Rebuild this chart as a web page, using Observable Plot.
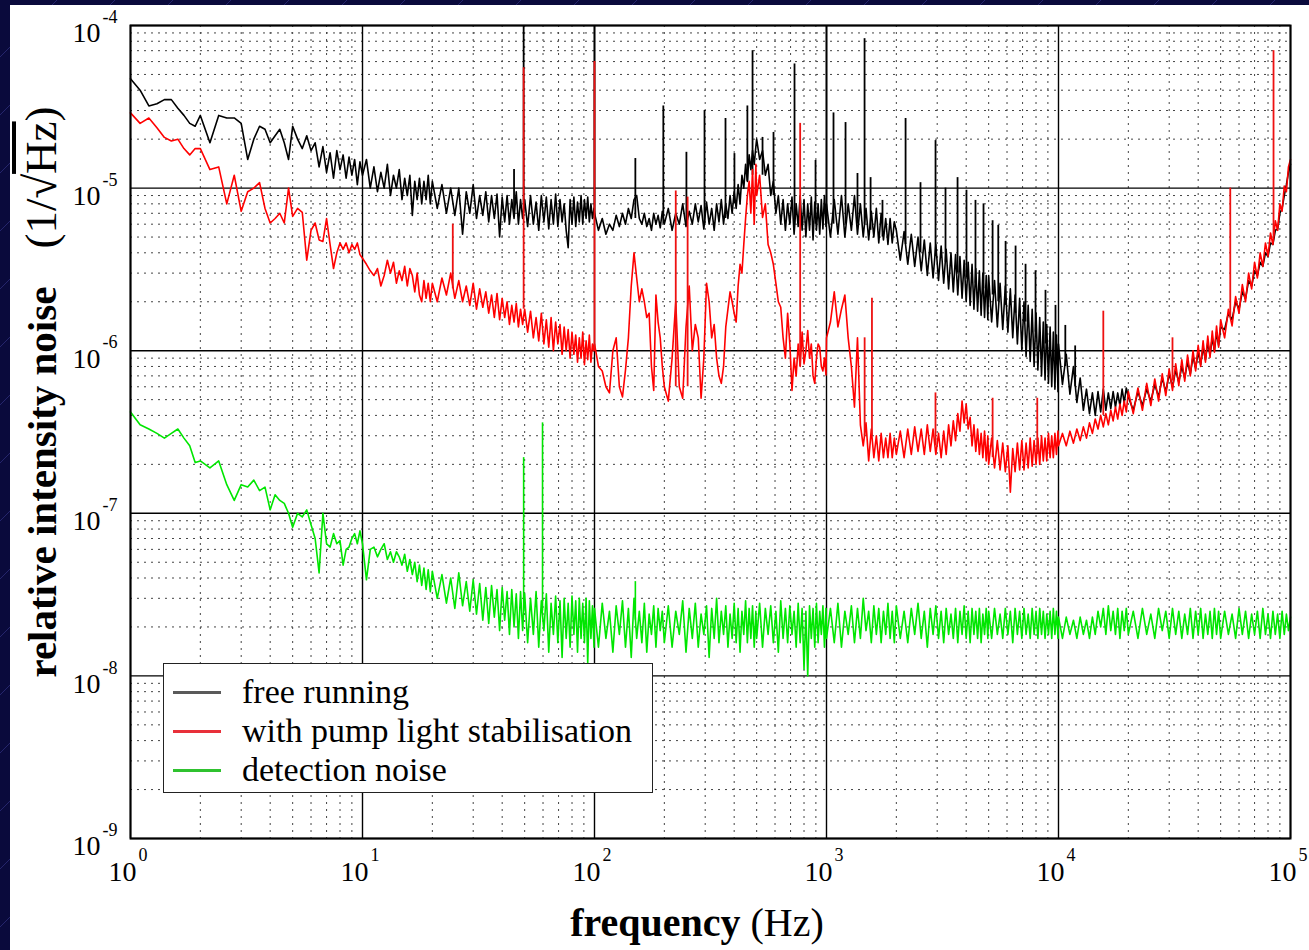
<!DOCTYPE html>
<html>
<head>
<meta charset="utf-8">
<script src="https://cdn.jsdelivr.net/npm/d3@7"></script>
<script src="https://cdn.jsdelivr.net/npm/@observablehq/plot@0.6"></script>
<style>
html,body{margin:0;padding:0;width:1309px;height:950px;overflow:hidden;}
body{position:relative;background:#0a0a3c repeating-linear-gradient(135deg,#0a0a3c 0px,#0a0a3c 40px,#25256c 40px,#25256c 41px);font-family:"Liberation Serif","Times New Roman",serif;color:#000;}
#panel{position:absolute;left:10px;top:5px;width:1299px;height:945px;background:#fff;}
#chart{position:absolute;left:0;top:0;width:1309px;height:950px;}
#xtitle{position:absolute;left:697px;top:903px;transform:translateX(-50%);font-size:40px;line-height:40px;white-space:nowrap;}
#ytitle{position:absolute;left:42px;top:392px;transform:translate(-50%,-50%) rotate(-90deg);font-size:41px;line-height:41px;white-space:nowrap;}
#legend{position:absolute;left:163px;top:663px;width:490px;height:130px;box-sizing:border-box;border:1.5px solid #222;background:#fff;}
.lrow{position:absolute;left:78px;font-size:34px;line-height:39px;white-space:nowrap;}
.lsample{position:absolute;left:9px;width:48px;height:3px;}
</style>
</head>
<body>
<div id="panel"></div>
<div id="chart"></div>
<div id="xtitle"><b>frequency</b> (Hz)</div>
<div id="ytitle"><b>relative intensity noise</b><span style="margin-left:38px;font-size:45px">(1/√<span style="text-decoration:overline">Hz</span>)</span></div>
<div id="legend"></div>
<script>
// ---- axis ticks ----
const xDecades = [1, 10, 100, 1000, 10000, 100000];
const xExponents = ["0", "1", "2", "3", "4", "5"];
const yDecades = [1e-4, 1e-5, 1e-6, 1e-7, 1e-8, 1e-9];
const yExponents = ["-4", "-5", "-6", "-7", "-8", "-9"];
const minorMultipliers = [2, 3, 4, 5, 6, 7, 8, 9];

// ---- legend ----
const seriesNames = ["free running", "with pump light stabilisation", "detection noise"];
const legendColors = ["#5a5a5a", "#e8303a", "#2fc22f"];

// ---- frequency grid (Hz) shared by the three spectra ----
const frequency = [
1,1.1,1.2,1.3,1.4,1.5,1.6,1.7,1.8,1.9,
2,2.2,2.4,2.6,2.8,3,3.2,3.4,3.6,3.8,4,4.2,4.4,4.6,4.8,
5,5.25,5.5,5.75,6,6.25,6.5,6.75,7,7.25,7.5,7.75,8,8.25,8.5,8.75,9,9.25,9.5,9.75,
10,10.4,10.8,11.2,11.6,12,12.4,12.8,13.2,13.6,14,14.4,14.8,15.2,15.6,16,16.4,16.8,17.2,17.6,18,18.4,18.8,19.2,19.6,
20,21,22,23,24,25,26,27,28,29,30,31,32,33,34,35,36,37,38,39,40,41,42,43,44,45,46,47,48,49,
50,51.5,53,54.5,56,57.5,59,60.5,62,63.5,65,66.5,68,69.5,71,72.5,74,75.5,77,78.5,80,81.5,83,84.5,86,87.5,89,90.5,92,93.5,95,96.5,98,99.5,
100,104,108,112,116,120,124,128,132,136,140,144,148,152,156,160,164,168,172,176,180,184,188,192,196,
200,208,216,224,232,240,248,256,264,272,280,288,296,304,312,320,328,336,344,352,360,368,376,384,392,400,408,416,424,432,440,448,456,464,472,480,488,496,
500,515,530,545,560,575,590,605,620,635,650,665,680,695,710,725,740,755,770,785,800,815,830,845,860,875,890,905,920,935,950,965,980,995,
1000,1040,1080,1120,1160,1200,1240,1280,1320,1360,1400,1440,1480,1520,1560,1600,1640,1680,1720,1760,1800,1840,1880,1920,1960,
2000,2080,2160,2240,2320,2400,2480,2560,2640,2720,2800,2880,2960,3040,3120,3200,3280,3360,3440,3520,3600,3680,3760,3840,3920,4000,4080,4160,4240,4320,4400,4480,4560,4640,4720,4800,4880,4960,
5000,5150,5300,5450,5600,5750,5900,6050,6200,6350,6500,6650,6800,6950,7100,7250,7400,7550,7700,7850,8000,8150,8300,8450,8600,8750,8900,9050,9200,9350,9500,9650,9800,9950,
10000,10400,10800,11200,11600,12000,12400,12800,13200,13600,14000,14400,14800,15200,15600,16000,16400,16800,17200,17600,18000,18400,18800,19200,19600,
20000,21000,22000,23000,24000,25000,26000,27000,28000,29000,30000,31000,32000,33000,34000,35000,36000,37000,38000,39000,40000,41000,42000,43000,44000,45000,46000,47000,48000,49000,
50000,52000,54000,56000,58000,60000,62000,64000,66000,68000,70000,72000,74000,76000,78000,80000,82000,84000,86000,88000,90000,92000,94000,96000,98000,100000
];

// ---- free running (1/sqrt(Hz)) ----
const freeRunning = [
4.7e-5,4.0e-5,3.2e-5,3.3e-5,3.5e-5,3.5e-5,3.1e-5,2.8e-5,2.5e-5,2.4e-5,
2.8e-5,1.9e-5,2.8e-5,2.7e-5,2.7e-5,2.5e-5,1.5e-5,2.0e-5,2.4e-5,2.3e-5,1.9e-5,2.1e-5,2.3e-5,1.9e-5,1.5e-5,
2.4e-5,2.0e-5,1.75e-5,2.1e-5,1.7e-5,1.9e-5,1.35e-5,1.8e-5,1.25e-5,1.65e-5,1.15e-5,1.7e-5,1.3e-5,1.6e-5,1.15e-5,1.55e-5,1.2e-5,1.5e-5,1.05e-5,1.45e-5,
1.2e-5,1.5e-5,1.0e-5,1.35e-5,9.5e-6,1.25e-5,1.0e-5,1.4e-5,9.0e-6,1.2e-5,1.0e-5,1.3e-5,8.5e-6,1.15e-5,9.0e-6,1.2e-5,6.8e-6,1.1e-5,8.5e-6,1.15e-5,8.0e-6,1.1e-5,8.5e-6,1.2e-5,8.0e-6,
1.1e-5,7.5e-6,1.05e-5,7.0e-6,1.0e-5,6.8e-6,1.0e-5,5.2e-6,9.5e-6,7.0e-6,1.05e-5,6.5e-6,9.0e-6,6.8e-6,9.5e-6,6.2e-6,9.0e-6,6.5e-6,9.2e-6,5.0e-6,8.8e-6,6.2e-6,9.0e-6,6.0e-6,8.5e-6,6.5e-6,9.5e-6,6.0e-6,8.5e-6,6.5e-6,
8.5e-6,5.8e-6,9.0e-6,6.0e-6,8.2e-6,5.5e-6,9.0e-6,6.2e-6,8.8e-6,5.6e-6,8.5e-6,6.0e-6,9.2e-6,5.8e-6,8.5e-6,6.2e-6,8.0e-6,5.5e-6,4.3e-6,8.5e-6,6.0e-6,8.8e-6,5.8e-6,8.2e-6,6.2e-6,9.0e-6,6.0e-6,8.5e-6,6.5e-6,8.8e-6,6.2e-6,8.0e-6,6.5e-6,7.5e-6,
7.0e-6,5.5e-6,6.5e-6,5.2e-6,6.0e-6,5.5e-6,6.8e-6,5.8e-6,7.0e-6,6.0e-6,7.5e-6,6.5e-6,8.5e-6,9.0e-6,6.5e-6,6.0e-6,7.0e-6,5.8e-6,6.5e-6,5.5e-6,7.0e-6,6.0e-6,6.8e-6,5.7e-6,7.2e-6,
6.0e-6,7.5e-6,5.5e-6,7.0e-6,6.0e-6,8.0e-6,5.8e-6,7.2e-6,6.0e-6,8.0e-6,6.2e-6,7.8e-6,5.6e-6,8.2e-6,6.0e-6,7.5e-6,5.5e-6,8.0e-6,6.2e-6,8.5e-6,6.0e-6,8.0e-6,6.5e-6,9.0e-6,7.0e-6,9.5e-6,7.5e-6,1.05e-5,8.0e-6,1.2e-5,1.0e-5,1.4e-5,1.1e-5,1.6e-5,1.3e-5,1.7e-5,1.4e-5,1.8e-5,
2.0e-5,1.5e-5,1.7e-5,1.2e-5,1.4e-5,9.0e-6,1.1e-5,7.0e-6,9.0e-6,6.0e-6,8.5e-6,5.5e-6,8.0e-6,6.0e-6,8.8e-6,5.2e-6,8.0e-6,5.8e-6,9.0e-6,5.5e-6,8.5e-6,5.0e-6,8.0e-6,5.5e-6,8.8e-6,4.8e-6,8.2e-6,5.5e-6,8.0e-6,5.2e-6,8.5e-6,5.6e-6,9.0e-6,5.8e-6,
8.0e-6,5.0e-6,8.5e-6,5.2e-6,9.0e-6,5.0e-6,8.0e-6,5.5e-6,9.0e-6,5.2e-6,8.0e-6,5.0e-6,7.5e-6,4.8e-6,7.2e-6,5.0e-6,7.5e-6,4.6e-6,7.0e-6,4.8e-6,6.5e-6,4.5e-6,6.5e-6,4.6e-6,6.2e-6,
5.5e-6,3.6e-6,5.4e-6,3.4e-6,5.2e-6,3.3e-6,5.0e-6,3.1e-6,4.8e-6,2.9e-6,4.6e-6,2.8e-6,4.5e-6,2.7e-6,4.4e-6,2.6e-6,4.2e-6,2.4e-6,4.0e-6,2.3e-6,3.9e-6,2.2e-6,3.8e-6,2.1e-6,3.6e-6,2.0e-6,3.5e-6,1.9e-6,3.4e-6,1.8e-6,3.2e-6,1.75e-6,3.1e-6,1.65e-6,3.0e-6,1.6e-6,2.9e-6,1.55e-6,
2.9e-6,1.5e-6,2.7e-6,1.4e-6,2.6e-6,1.35e-6,2.5e-6,1.3e-6,2.4e-6,1.2e-6,2.2e-6,1.1e-6,2.1e-6,1.0e-6,2.0e-6,9.2e-7,1.9e-6,8.6e-7,1.8e-6,8.0e-7,1.7e-6,7.6e-7,1.6e-6,7.0e-7,1.5e-6,6.6e-7,1.45e-6,6.3e-7,1.4e-6,6.0e-7,1.3e-6,5.8e-7,1.25e-6,5.6e-7,
1.1e-6,6.2e-7,9.5e-7,5.4e-7,8.0e-7,4.8e-7,6.8e-7,4.3e-7,5.8e-7,4.1e-7,5.5e-7,4.0e-7,5.6e-7,4.2e-7,5.8e-7,4.3e-7,5.5e-7,4.4e-7,5.6e-7,4.5e-7,5.5e-7,4.6e-7,5.8e-7,4.8e-7,5.9e-7,
5.2e-7,4.3e-7,5.6e-7,4.6e-7,5.8e-7,4.9e-7,6.2e-7,5.2e-7,6.8e-7,5.6e-7,7.2e-7,6.0e-7,7.6e-7,6.4e-7,8.0e-7,6.8e-7,8.6e-7,7.2e-7,9.2e-7,7.8e-7,9.8e-7,8.2e-7,1.05e-6,8.8e-7,1.12e-6,9.4e-7,1.2e-6,1.0e-6,1.3e-6,1.08e-6,
1.4e-6,1.35e-6,1.7e-6,1.55e-6,2.0e-6,1.8e-6,2.3e-6,2.1e-6,2.7e-6,2.5e-6,3.1e-6,2.9e-6,3.5e-6,3.3e-6,4.0e-6,3.8e-6,4.6e-6,4.5e-6,5.5e-6,5.6e-6,7.0e-6,7.5e-6,9.0e-6,1.05e-5,1.25e-5,1.4e-5
];

// ---- with pump light stabilisation ----
const pumpStabilised = [
2.9e-5,2.5e-5,2.7e-5,2.35e-5,2.05e-5,1.95e-5,2.0e-5,1.75e-5,1.6e-5,1.75e-5,
1.75e-5,1.3e-5,1.35e-5,8.0e-6,1.2e-5,7.2e-6,9.5e-6,1.0e-5,1.08e-5,7.5e-6,6.1e-6,6.5e-6,7.0e-6,6.1e-6,1.0e-5,
6.7e-6,7.5e-6,7.1e-6,3.6e-6,5.5e-6,6.1e-6,4.8e-6,4.7e-6,6.5e-6,4.5e-6,3.2e-6,4.0e-6,4.6e-6,4.2e-6,4.6e-6,4.0e-6,4.5e-6,4.2e-6,4.6e-6,3.9e-6,
3.7e-6,3.4e-6,3.1e-6,2.9e-6,3.2e-6,2.5e-6,2.9e-6,3.6e-6,3.0e-6,3.5e-6,2.6e-6,3.1e-6,2.7e-6,3.3e-6,2.5e-6,3.2e-6,2.9e-6,2.3e-6,3.0e-6,2.2e-6,2.0e-6,2.7e-6,2.1e-6,2.6e-6,2.0e-6,
2.6e-6,2.0e-6,2.8e-6,2.2e-6,3.0e-6,2.1e-6,2.7e-6,2.0e-6,2.5e-6,1.9e-6,2.6e-6,1.8e-6,2.4e-6,1.85e-6,2.3e-6,1.7e-6,2.2e-6,1.6e-6,2.25e-6,1.55e-6,2.1e-6,1.6e-6,2.0e-6,1.45e-6,1.9e-6,1.5e-6,1.95e-6,1.4e-6,1.8e-6,1.45e-6,
1.8e-6,1.3e-6,1.75e-6,1.2e-6,1.6e-6,1.15e-6,1.7e-6,1.1e-6,1.55e-6,1.05e-6,1.6e-6,1.0e-6,1.5e-6,1.1e-6,1.45e-6,9.5e-7,1.4e-6,1.0e-6,1.35e-6,9.0e-7,1.3e-6,9.5e-7,1.25e-6,8.5e-7,1.2e-6,9.0e-7,1.3e-6,8.2e-7,1.15e-6,8.8e-7,1.25e-6,8.5e-7,1.1e-6,1.0e-6,
1.1e-6,8.0e-7,7.5e-7,6.0e-7,5.5e-7,1.0e-6,1.2e-6,6.0e-7,5.2e-7,7.6e-7,1.2e-6,2.5e-6,4.0e-6,2.8e-6,2.0e-6,2.4e-6,2.0e-6,1.6e-6,1.7e-6,8.0e-7,5.7e-7,2.2e-6,1.5e-6,1.2e-6,8.0e-7,
6.0e-7,4.9e-7,9.0e-7,2.0e-6,6.0e-7,5.1e-7,1.4e-6,2.5e-6,1.0e-6,1.45e-6,1.2e-6,5.1e-7,9.0e-7,2.6e-6,2.0e-6,1.2e-6,1.45e-6,9.0e-7,7.0e-7,6.3e-7,8.0e-7,1.4e-6,1.8e-6,2.3e-6,2.0e-6,1.7e-6,1.5e-6,2.5e-6,3.4e-6,3.0e-6,4.5e-6,6.5e-6,9.0e-6,1.1e-5,7.0e-6,1.3e-5,6.0e-6,1.4e-5,
9.0e-6,1.2e-5,6.6e-6,8.0e-6,4.5e-6,4.0e-6,3.4e-6,2.6e-6,2.0e-6,1.85e-6,1.2e-6,9.0e-7,1.7e-6,1.1e-6,5.7e-7,9.0e-7,7.0e-7,1.1e-6,8.0e-7,1.3e-6,8.3e-7,1.0e-6,1.33e-6,9.0e-7,1.1e-6,7.0e-7,6.3e-7,9.0e-7,1.1e-6,1.05e-6,8.0e-7,7.5e-7,9.0e-7,7.1e-7,
1.2e-6,1.5e-6,2.3e-6,1.4e-6,1.8e-6,2.2e-6,1.2e-6,8.0e-7,4.5e-7,1.2e-6,3.5e-7,2.6e-7,3.6e-7,2.1e-7,3.3e-7,2.2e-7,3.0e-7,2.1e-7,3.1e-7,2.2e-7,2.9e-7,2.2e-7,3.1e-7,2.2e-7,2.9e-7,
2.3e-7,3.2e-7,2.2e-7,3.3e-7,2.3e-7,3.4e-7,2.4e-7,3.3e-7,2.3e-7,3.5e-7,2.4e-7,3.3e-7,2.3e-7,3.1e-7,2.2e-7,3.2e-7,2.3e-7,3.5e-7,2.6e-7,3.7e-7,2.8e-7,4.1e-7,3.2e-7,4.9e-7,3.6e-7,4.7e-7,3.3e-7,3.9e-7,2.6e-7,3.5e-7,2.4e-7,3.3e-7,2.3e-7,3.1e-7,2.2e-7,3.2e-7,2.1e-7,3.0e-7,
2.0e-7,2.9e-7,1.9e-7,2.8e-7,1.85e-7,2.7e-7,1.8e-7,2.6e-7,1.35e-7,2.5e-7,1.8e-7,2.7e-7,1.85e-7,2.8e-7,1.85e-7,2.7e-7,1.9e-7,2.9e-7,1.95e-7,2.8e-7,2.0e-7,2.9e-7,2.0e-7,3.0e-7,2.1e-7,2.9e-7,2.1e-7,3.1e-7,2.2e-7,3.0e-7,2.2e-7,3.1e-7,2.3e-7,3.2e-7,
2.6e-7,3.1e-7,2.6e-7,3.2e-7,2.7e-7,3.3e-7,2.8e-7,3.4e-7,2.9e-7,3.6e-7,3.1e-7,3.8e-7,3.3e-7,4.0e-7,3.4e-7,4.1e-7,3.5e-7,4.3e-7,3.7e-7,4.5e-7,3.8e-7,4.7e-7,4.0e-7,4.9e-7,4.2e-7,
5.6e-7,4.1e-7,5.9e-7,4.3e-7,6.3e-7,4.6e-7,6.7e-7,4.9e-7,7.2e-7,5.3e-7,7.7e-7,5.7e-7,8.3e-7,6.1e-7,8.8e-7,6.5e-7,9.4e-7,7.0e-7,1.0e-6,7.5e-7,1.08e-6,8.0e-7,1.15e-6,8.5e-7,1.23e-6,9.1e-7,1.32e-6,9.8e-7,1.42e-6,1.05e-6,
1.55e-6,1.2e-6,1.8e-6,1.42e-6,2.15e-6,1.7e-6,2.55e-6,2.0e-6,3.0e-6,2.4e-6,3.5e-6,2.8e-6,4.0e-6,3.3e-6,4.6e-6,3.8e-6,5.3e-6,4.5e-6,6.3e-6,5.5e-6,8.0e-6,7.2e-6,1.03e-5,9.5e-6,1.35e-5,1.5e-5
];

// ---- detection noise ----
const detectionNoise = [
4.2e-7,3.5e-7,3.3e-7,3.1e-7,2.9e-7,3.1e-7,3.3e-7,2.9e-7,2.6e-7,2.05e-7,
2.1e-7,1.9e-7,2.1e-7,1.5e-7,1.2e-7,1.5e-7,1.45e-7,1.6e-7,1.38e-7,1.45e-7,1.05e-7,1.3e-7,1.2e-7,1.15e-7,1.0e-7,
8.2e-8,1.0e-7,9.5e-8,1.05e-7,8.5e-8,7.0e-8,4.3e-8,1.0e-7,6.5e-8,6.2e-8,7.5e-8,6.5e-8,6.8e-8,4.8e-8,6.0e-8,6.2e-8,7.0e-8,7.5e-8,6.5e-8,7.8e-8,
6.5e-8,3.9e-8,6.0e-8,6.2e-8,5.4e-8,6.0e-8,6.5e-8,5.2e-8,5.8e-8,5.0e-8,5.8e-8,5.4e-8,4.8e-8,5.6e-8,4.4e-8,5.2e-8,4.2e-8,5.0e-8,3.8e-8,4.8e-8,3.6e-8,4.6e-8,3.4e-8,4.5e-8,3.3e-8,
4.4e-8,3.0e-8,4.2e-8,2.8e-8,4.0e-8,2.6e-8,4.3e-8,2.7e-8,3.8e-8,2.5e-8,3.9e-8,2.4e-8,3.7e-8,2.2e-8,3.5e-8,2.1e-8,3.6e-8,2.3e-8,3.4e-8,1.9e-8,3.5e-8,2.2e-8,3.3e-8,1.8e-8,3.4e-8,2.0e-8,3.2e-8,1.7e-8,3.3e-8,1.9e-8,
3.2e-8,1.6e-8,3.0e-8,1.8e-8,3.3e-8,1.5e-8,2.9e-8,1.9e-8,3.2e-8,1.4e-8,2.8e-8,1.8e-8,3.1e-8,1.6e-8,2.9e-8,1.3e-8,3.0e-8,1.7e-8,2.8e-8,1.5e-8,3.1e-8,1.8e-8,2.9e-8,1.4e-8,3.0e-8,1.7e-8,2.8e-8,1.6e-8,3.0e-8,1.2e-8,2.9e-8,1.7e-8,2.7e-8,1.5e-8,
2.6e-8,1.5e-8,2.8e-8,1.7e-8,2.5e-8,1.4e-8,2.7e-8,1.8e-8,2.9e-8,1.5e-8,2.6e-8,1.3e-8,3.0e-8,1.7e-8,2.5e-8,1.6e-8,2.8e-8,1.4e-8,2.4e-8,1.8e-8,2.7e-8,1.5e-8,2.6e-8,1.9e-8,2.5e-8,
1.6e-8,2.7e-8,1.5e-8,2.5e-8,1.8e-8,2.9e-8,1.4e-8,2.6e-8,1.7e-8,2.8e-8,1.5e-8,2.4e-8,1.8e-8,2.7e-8,1.3e-8,2.6e-8,1.7e-8,3.0e-8,1.6e-8,2.5e-8,1.8e-8,2.7e-8,1.5e-8,2.4e-8,1.7e-8,2.8e-8,1.6e-8,2.6e-8,1.4e-8,2.5e-8,1.8e-8,2.9e-8,1.6e-8,2.6e-8,1.7e-8,2.7e-8,1.5e-8,2.5e-8,
1.7e-8,2.8e-8,1.5e-8,2.6e-8,1.8e-8,2.7e-8,1.6e-8,2.5e-8,1.4e-8,2.9e-8,1.7e-8,2.6e-8,1.6e-8,2.7e-8,1.8e-8,2.5e-8,1.5e-8,2.8e-8,1.6e-8,2.6e-8,1.1e-8,2.5e-8,1.0e-8,2.7e-8,1.7e-8,2.6e-8,1.5e-8,2.8e-8,1.6e-8,2.5e-8,1.8e-8,2.7e-8,1.5e-8,2.6e-8,
1.7e-8,2.6e-8,1.6e-8,2.8e-8,1.5e-8,2.5e-8,1.8e-8,2.7e-8,1.6e-8,2.6e-8,1.7e-8,3.0e-8,1.9e-8,2.5e-8,1.6e-8,2.7e-8,1.8e-8,2.6e-8,1.6e-8,2.5e-8,1.8e-8,2.8e-8,1.7e-8,2.5e-8,1.6e-8,
2.7e-8,1.7e-8,2.5e-8,1.6e-8,2.6e-8,1.8e-8,2.8e-8,1.7e-8,2.5e-8,1.5e-8,2.6e-8,1.8e-8,2.7e-8,1.7e-8,2.5e-8,1.6e-8,2.6e-8,1.8e-8,2.4e-8,1.7e-8,2.6e-8,1.6e-8,2.5e-8,1.8e-8,2.7e-8,1.7e-8,2.5e-8,1.6e-8,2.6e-8,1.8e-8,2.5e-8,1.7e-8,2.6e-8,1.6e-8,2.4e-8,1.8e-8,2.6e-8,1.7e-8,
2.5e-8,1.7e-8,2.6e-8,1.8e-8,2.4e-8,1.7e-8,2.6e-8,1.8e-8,2.5e-8,1.6e-8,2.6e-8,1.8e-8,2.5e-8,1.7e-8,2.6e-8,1.8e-8,2.4e-8,1.7e-8,2.6e-8,1.8e-8,2.5e-8,1.7e-8,2.6e-8,1.8e-8,2.5e-8,1.7e-8,2.4e-8,1.8e-8,2.5e-8,1.7e-8,2.6e-8,1.8e-8,2.5e-8,1.7e-8,
2.3e-8,1.7e-8,2.3e-8,1.8e-8,2.2e-8,1.7e-8,2.3e-8,1.8e-8,2.2e-8,1.7e-8,2.3e-8,1.8e-8,2.5e-8,2.0e-8,2.6e-8,1.8e-8,2.7e-8,1.9e-8,2.5e-8,1.8e-8,2.6e-8,1.7e-8,2.5e-8,1.9e-8,2.6e-8,
1.8e-8,2.5e-8,1.7e-8,2.6e-8,1.8e-8,2.4e-8,1.7e-8,2.6e-8,1.9e-8,2.5e-8,1.7e-8,2.6e-8,1.8e-8,2.5e-8,1.7e-8,2.4e-8,1.8e-8,2.6e-8,1.7e-8,2.5e-8,1.8e-8,2.6e-8,1.7e-8,2.4e-8,1.8e-8,2.5e-8,1.7e-8,2.6e-8,1.8e-8,2.5e-8,
1.7e-8,2.5e-8,1.8e-8,2.4e-8,1.7e-8,2.6e-8,1.8e-8,2.5e-8,1.7e-8,2.4e-8,1.8e-8,2.5e-8,1.7e-8,2.6e-8,1.8e-8,2.4e-8,1.7e-8,2.5e-8,1.8e-8,2.4e-8,1.7e-8,2.5e-8,1.8e-8,2.4e-8,1.9e-8,2.3e-8
];

// ---- narrow spectral lines: [frequency, floor, peak] ----
const freeRunningSpikes = [
[45,7e-6,1.3e-5],[49.5,7e-6,1e-4],[100,6.5e-6,1e-4],[150,6.5e-6,1.52e-5],[198,6e-6,3.2e-5],[249,6e-6,1.66e-5],
[298,6e-6,3.0e-5],[367,6.5e-6,2.68e-5],[401,8e-6,1.63e-5],[456,1.1e-5,3.2e-5],[480,1.2e-5,7e-5],[530,1.2e-5,2.05e-5],
[591,9e-6,2.2e-5],[728,6e-6,5.8e-5],[897,6e-6,1.48e-5],[1000,6e-6,1e-4],[1072,6e-6,2.9e-5],[1208,6e-6,2.53e-5],
[1360,6e-6,1.23e-5],[1459,6e-6,8.3e-5],[1549,5.5e-6,1.16e-5],[1743,5e-6,8.4e-6],[2192,4.5e-6,2.68e-5],[2542,4e-6,1.08e-5],
[2951,3.8e-6,1.96e-5],[3258,3.5e-6,1.0e-5],[3672,3e-6,1.16e-5],[4012,2.8e-6,9.7e-6],[4387,2.6e-6,8.4e-6],[4751,2.4e-6,8.0e-6],
[5199,2.2e-6,6.3e-6],[5500,2e-6,5.9e-6],[5915,1.9e-6,4.7e-6],[6531,1.7e-6,4.4e-6],[7211,1.5e-6,3.4e-6],[7962,1.3e-6,3.1e-6],
[8790,1.1e-6,2.35e-6],[9706,9e-7,1.9e-6],[10700,8e-7,1.43e-6],[11800,6e-7,1.07e-6]
];
const pumpStabilisedSpikes = [
[24.5,2.4e-6,6e-6],[49.5,1.8e-6,5.5e-5],[100,1.0e-6,6e-5],[224,6e-7,9.6e-6],[252,6e-7,8.8e-6],[770,8e-7,2.5e-5],
[1460,3e-7,1.2e-6],[1570,3e-7,2.1e-6],[2950,2.6e-7,5.5e-7],[5200,2.2e-7,5.1e-7],[8100,2.3e-7,5.1e-7],
[15600,4e-7,1.75e-6],[31000,6.5e-7,1.2e-6],[55000,1.6e-6,1.0e-5],[84500,5e-6,7e-5]
];
const detectionNoiseSpikes = [
[49.5,2.5e-8,2.2e-7],[59.7,2.5e-8,3.6e-7],[150,2.2e-8,3.8e-8]
];

const xMinor = xDecades.slice(0, -1).flatMap(d => minorMultipliers.map(m => m * d));
const yMinor = yDecades.slice(1).flatMap(d => minorMultipliers.map(m => m * d));

const font = "Liberation Serif, Times New Roman, serif";
const chart = Plot.plot({
  width: 1309,
  height: 950,
  marginLeft: 130,
  marginRight: 19,
  marginTop: 25,
  marginBottom: 112,
  style: {background: "transparent", fontFamily: font, overflow: "visible"},
  x: {type: "log", domain: [1, 1e5], axis: null},
  y: {type: "log", domain: [1e-9, 1e-4], axis: null},
  marks: [
    Plot.ruleX(xMinor, {stroke: "#444", strokeWidth: 1, strokeDasharray: "2,5"}),
    Plot.ruleY(yMinor, {stroke: "#444", strokeWidth: 1, strokeDasharray: "2,5"}),
    Plot.ruleX(xDecades, {stroke: "#000", strokeWidth: 1.4}),
    Plot.ruleY(yDecades, {stroke: "#000", strokeWidth: 1.4}),
    Plot.line(frequency, {x: frequency, y: freeRunning, stroke: "#000", strokeWidth: 1.6}),
    Plot.ruleX(freeRunningSpikes, {x: d => d[0], y1: d => d[1], y2: d => d[2], stroke: "#000", strokeWidth: 1.8}),
    Plot.line(frequency, {x: frequency, y: pumpStabilised, stroke: "#ff0000", strokeWidth: 1.6}),
    Plot.ruleX(pumpStabilisedSpikes, {x: d => d[0], y1: d => d[1], y2: d => d[2], stroke: "#ee1111", strokeWidth: 1.8}),
    Plot.line(frequency, {x: frequency, y: detectionNoise, stroke: "#00e600", strokeWidth: 1.6}),
    Plot.ruleX(detectionNoiseSpikes, {x: d => d[0], y1: d => d[1], y2: d => d[2], stroke: "#00e600", strokeWidth: 1.6}),
    Plot.frame({stroke: "#000", strokeWidth: 2}),
    Plot.text(xDecades, {x: xDecades, text: () => "10", frameAnchor: "bottom", textAnchor: "end", lineAnchor: "middle", dx: 6, dy: 34, fontSize: 28, fontFamily: font, fill: "#000"}),
    Plot.text(xDecades, {x: xDecades, text: xExponents, frameAnchor: "bottom", textAnchor: "start", lineAnchor: "middle", dx: 8, dy: 17, fontSize: 18, fontFamily: font, fill: "#000"}),
    Plot.text(yDecades, {y: yDecades, text: () => "10", frameAnchor: "left", textAnchor: "end", lineAnchor: "middle", dx: -30, dy: 8, fontSize: 28, fontFamily: font, fill: "#000"}),
    Plot.text(yDecades, {y: yDecades, text: yExponents, frameAnchor: "left", textAnchor: "start", lineAnchor: "middle", dx: -28, dy: -8, fontSize: 18, fontFamily: font, fill: "#000"})
  ]
});
document.getElementById("chart").appendChild(chart);

// legend
const legend = document.getElementById("legend");
seriesNames.forEach((name, i) => {
  const row = document.createElement("div");
  row.className = "lrow";
  row.style.top = (8 + 39 * i) + "px";
  row.textContent = name;
  legend.appendChild(row);
  const sample = document.createElement("div");
  sample.className = "lsample";
  sample.style.top = (27 + 39 * i) + "px";
  sample.style.background = legendColors[i];
  legend.appendChild(sample);
});
</script>
</body>
</html>
